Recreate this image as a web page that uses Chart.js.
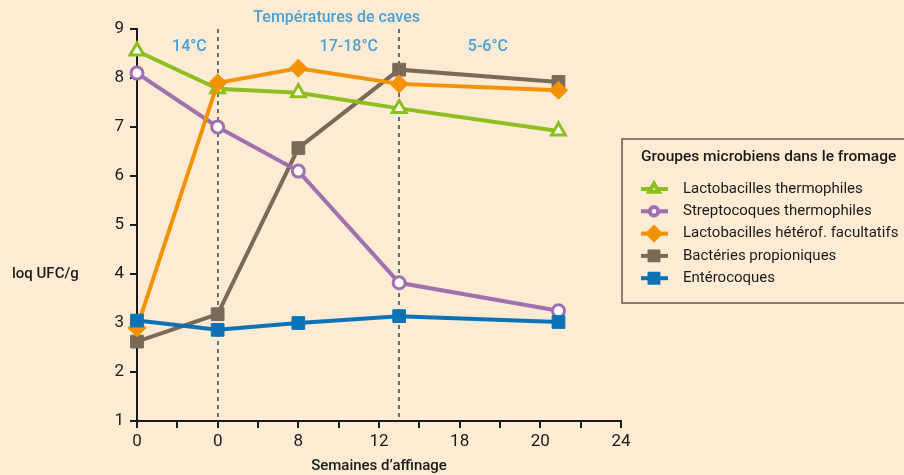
<!DOCTYPE html>
<html>
<head>
<meta charset="utf-8">
<script src="https://cdn.jsdelivr.net/npm/chart.js@4/dist/chart.umd.min.js"></script>
<style>
  html, body { margin: 0; padding: 0; background: #fdebd3; }
  #wrap { width: 904px; height: 475px; }
</style>
</head>
<body>
<div id="wrap"><canvas id="myChart" width="904" height="475"></canvas></div>
<script>
// semaines d'affinage (positions sur l'axe)
const weeks = [0, 4, 8, 13, 20.9];
const xTickLabels = ["0", "0", "8", "12", "18", "20", "24"];

// log UFC/g pour chaque groupe
const lactoThermo = [8.55, 7.78, 7.7, 7.38, 6.92];
const streptoThermo = [8.1, 7.0, 6.1, 3.82, 3.25];
const lactoHetero = [2.9, 7.9, 8.2, 7.88, 7.75];
const propioniques = [2.62, 3.18, 6.57, 8.17, 7.92];
const enterocoques = [3.05, 2.86, 3.0, 3.14, 3.02];

const seriesNames = [
  "Lactobacilles thermophiles",
  "Streptocoques thermophiles",
  "Lactobacilles hétérof. facultatifs",
  "Bactéries propioniques",
  "Entérocoques",
];

// changements de cave et températures
const caveLimits = [4, 13];
const caveTemps = ["14°C", "17-18°C", "5-6°C"];
const caveTempX = [2.6, 10.5, 17.4];

const bg = "#fdebd3";
const ink = "#1a1a1a";
const blueText = "#4a9fd6";

function toPoints(values) {
  return values.map((v, i) => ({ x: weeks[i], y: v }));
}

const datasets = [
  {
    label: seriesNames[0],
    data: toPoints(lactoThermo),
    borderColor: "#8cbf1e",
    pointBackgroundColor: "#ffffff",
    pointStyle: "triangle",
    pointRadius: 8,
    pointBorderWidth: 3,
    order: 2,
  },
  {
    label: seriesNames[1],
    data: toPoints(streptoThermo),
    borderColor: "#a06fae",
    pointBackgroundColor: "#ffffff",
    pointStyle: "circle",
    pointRadius: 6,
    pointBorderWidth: 3,
    order: 3,
  },
  {
    label: seriesNames[2],
    data: toPoints(lactoHetero),
    borderColor: "#f39200",
    pointBackgroundColor: "#f39200",
    pointStyle: "rectRot",
    pointRadius: 9,
    pointBorderWidth: 1,
    order: 1,
  },
  {
    label: seriesNames[3],
    data: toPoints(propioniques),
    borderColor: "#7a6957",
    pointBackgroundColor: "#7a6957",
    pointStyle: "rect",
    pointRadius: 9,
    pointBorderWidth: 1,
    order: 4,
  },
  {
    label: seriesNames[4],
    data: toPoints(enterocoques),
    borderColor: "#0c72b6",
    pointBackgroundColor: "#0c72b6",
    pointStyle: "rect",
    pointRadius: 9,
    pointBorderWidth: 1,
    order: 0,
  },
];
datasets.forEach((d) => {
  d.borderWidth = 4;
  d.pointBorderColor = d.borderColor;
  d.pointHoverRadius = d.pointRadius;
  d.clip = false;
  d.tension = 0;
});

// fond peche
const bgPlugin = {
  id: "bgPlugin",
  beforeDraw(chart) {
    const ctx = chart.ctx;
    ctx.save();
    ctx.fillStyle = bg;
    ctx.fillRect(0, 0, chart.width, chart.height);
    ctx.restore();
  },
};

// lignes pointillees + textes des caves
const cavePlugin = {
  id: "cavePlugin",
  beforeDatasetsDraw(chart) {
    const ctx = chart.ctx;
    const x = chart.scales.x;
    const y = chart.scales.y;
    ctx.save();
    ctx.strokeStyle = "#6e6e6e";
    ctx.lineWidth = 2;
    ctx.setLineDash([4, 4]);
    caveLimits.forEach((w) => {
      const px = Math.round(x.getPixelForValue(w));
      ctx.beginPath();
      ctx.moveTo(px, y.getPixelForValue(9));
      ctx.lineTo(px, y.getPixelForValue(1));
      ctx.stroke();
    });
    ctx.restore();
  },
  afterDraw(chart) {
    const ctx = chart.ctx;
    const x = chart.scales.x;
    const y = chart.scales.y;
    ctx.save();
    ctx.fillStyle = blueText;
    ctx.textAlign = "center";
    ctx.textBaseline = "middle";
    ctx.font = "500 16px Roboto";
    ctx.fillText("Températures de caves", x.getPixelForValue(9.9), 18);
    caveTemps.forEach((t, i) => {
      ctx.fillText(t, x.getPixelForValue(caveTempX[i]), y.getPixelForValue(8.63));
    });

    // titres des axes
    ctx.fillStyle = ink;
    ctx.font = "500 15px Roboto";
    ctx.textAlign = "left";
    ctx.fillText("loq UFC/g", 12, y.getPixelForValue(4));
    ctx.textAlign = "center";
    ctx.fillText("Semaines d\u2019affinage", (chart.chartArea.left + chart.chartArea.right) / 2, 466);
    ctx.restore();
  },
};

// legende dans un cadre a droite
const legendPlugin = {
  id: "legendPlugin",
  afterDraw(chart) {
    const ctx = chart.ctx;
    ctx.save();
    ctx.strokeStyle = "#6b5a48";
    ctx.lineWidth = 1.5;
    ctx.strokeRect(622, 139, 320, 164);
    ctx.fillStyle = ink;
    ctx.textBaseline = "middle";
    ctx.textAlign = "left";
    ctx.font = "500 15.5px Roboto";
    ctx.fillText("Groupes microbiens dans le fromage", 641, 157);
    ctx.font = "15px Roboto";
    datasets.forEach((d, i) => {
      const ly = 189 + i * 22.3;
      ctx.strokeStyle = d.borderColor;
      ctx.lineWidth = 4;
      ctx.setLineDash([]);
      ctx.beginPath();
      ctx.moveTo(641, ly);
      ctx.lineTo(668, ly);
      ctx.stroke();
      ctx.fillStyle = d.pointBackgroundColor;
      ctx.strokeStyle = d.borderColor;
      Chart.helpers.drawPoint(
        ctx,
        {
          pointStyle: d.pointStyle,
          radius: d.pointRadius * 0.7,
          borderWidth: d.pointBorderWidth,
          rotation: 0,
        },
        654,
        ly
      );
      ctx.fillStyle = ink;
      ctx.fillText(d.label, 683, ly);
    });
    ctx.restore();
  },
};

Chart.defaults.font.family = "Roboto";
Chart.defaults.color = ink;

const ctx = document.getElementById("myChart");
new Chart(ctx, {
  type: "line",
  data: { datasets: datasets },
  options: {
    responsive: false,
    animation: false,
    layout: { padding: { left: 0, right: 283, top: 29, bottom: 0 } },
    plugins: {
      legend: { display: false },
      tooltip: { enabled: false },
    },
    scales: {
      x: {
        type: "linear",
        min: 0,
        max: 24,
        afterFit: (scale) => {
          scale.height = 54;
        },
        ticks: {
          stepSize: 2,
          autoSkip: false,
          maxRotation: 0,
          padding: 4,
          font: { size: 17 },
          color: ink,
          callback: (v) => (v % 4 === 0 ? xTickLabels[v / 4] : ""),
        },
        grid: {
          drawOnChartArea: false,
          drawTicks: true,
          tickLength: 7,
          lineWidth: 2,
          color: ink,
        },
        border: { display: true, color: ink, width: 2 },
      },
      y: {
        min: 1,
        max: 9,
        afterFit: (scale) => {
          scale.width = 137;
        },
        ticks: {
          stepSize: 1,
          padding: 6,
          font: { size: 17 },
          color: ink,
        },
        grid: {
          drawOnChartArea: false,
          drawTicks: true,
          tickLength: 7,
          lineWidth: 2,
          color: ink,
        },
        border: { display: true, color: ink, width: 2 },
      },
    },
  },
  plugins: [bgPlugin, cavePlugin, legendPlugin],
});
</script>
</body>
</html>
